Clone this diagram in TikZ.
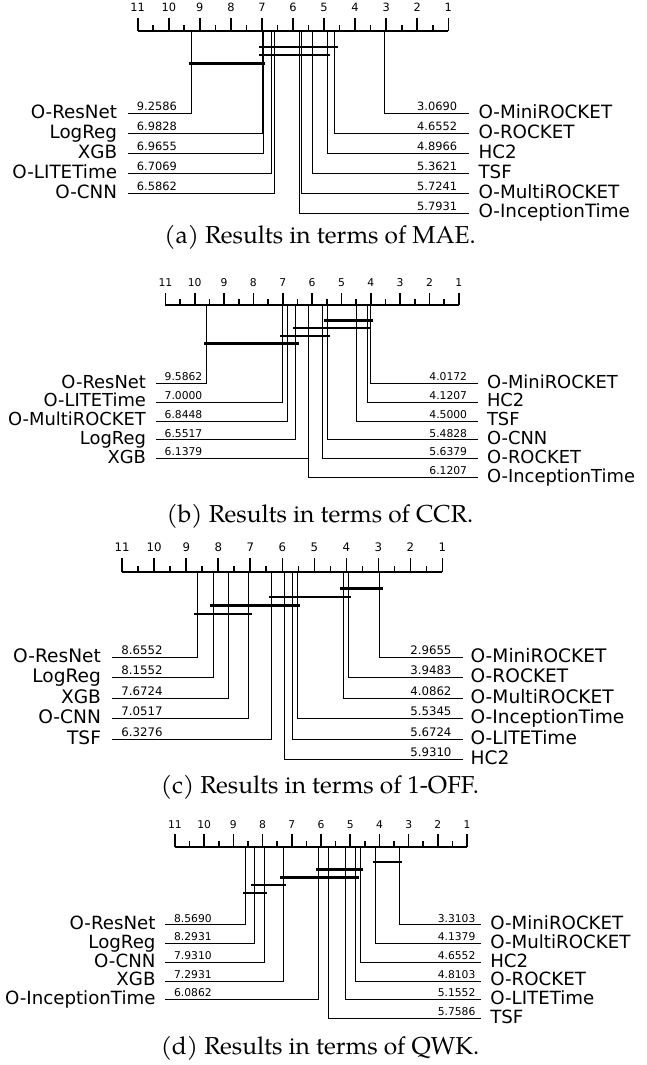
\documentclass[tikz,border=0pt]{standalone}
\usepackage{fontspec}
\newfontfamily\dvs{DejaVu Sans}
\newfontfamily\capfont{TeX Gyre Pagella}
% #1 xs, #2 xe, #3 scale, #4 axis y, #5 caption centre y, #6 name size, #7 right line gap, #8 right name gap
\newcommand\cdsetup[8]{%
  \def\cdxs{#1}\def\cdxe{#2}\def\cdf{#3}\def\cdya{#4}\def\cdcap{#5}%
  \def\cdrl{#7}\def\cdrn{#8}%
  \pgfmathsetmacro\cdu{(#2-#1)/10}%
  \pgfmathsetmacro\cdfN{#6}%
  \pgfmathsetmacro\cdfS{11.4*#3}%
  \pgfmathsetmacro\cdyr{#4+83*#3}%
  \pgfmathsetmacro\cddr{19.9*#3}%
  \pgfmathsetmacro\cdyt{#4-23.4*#3+0.365*\cdfS}%
}
\newcommand\cdaxis[1]{%
  \coordinate (#1ax0) at (\cdxs,\cdya);
  \coordinate (#1ax1) at (\cdxe,\cdya);
  \draw[axisln] (#1ax0) -- (#1ax1);
  \foreach \t in {1,...,11}{%
    \pgfmathsetmacro\cdX{\cdxs+(11-\t)*\cdu}%
    \draw[tickln] (\cdX,\cdya) -- (\cdX,\cdya-13*\cdf);
    \node[tk] (#1tk\t) at (\cdX,\cdyt) {\t};
  }%
  \foreach \t in {1.5,2.5,...,10.5}{%
    \pgfmathsetmacro\cdX{\cdxs+(11-\t)*\cdu}%
    \draw[tickln] (\cdX,\cdya) -- (\cdX,\cdya-6*\cdf);
  }%
}
\newcommand\cdL[4]{%
  \pgfmathsetmacro\cdX{\cdxs+(11-#3)*\cdu}%
  \pgfmathsetmacro\cdY{\cdyr+#2*\cddr}%
  \coordinate (#1L#2t) at (\cdX,\cdya);
  \coordinate (#1L#2e) at (\cdxs-10*\cdf,\cdY);
  \draw[conn] (#1L#2t) |- (#1L#2e);
  \node[nm,anchor=base east] (#1L#2) at (\cdxs-20.4*\cdf,\cdY+0.262*\cdfN) {#4};
  \node[num,anchor=base west] (#1L#2v) at (\cdxs-1*\cdf,\cdY-2.9*\cdf) {#3};
}
\newcommand\cdR[4]{%
  \pgfmathsetmacro\cdX{\cdxs+(11-#3)*\cdu}%
  \pgfmathsetmacro\cdY{\cdyr+#2*\cddr}%
  \coordinate (#1R#2t) at (\cdX,\cdya);
  \coordinate (#1R#2e) at (\cdxe+\cdrl,\cdY);
  \draw[conn] (#1R#2t) |- (#1R#2e);
  \node[nm,anchor=base west] (#1R#2) at (\cdxe+\cdrn,\cdY+0.262*\cdfN) {#4};
  \node[num,anchor=base east] (#1R#2v) at (\cdxe+9*\cdf,\cdY-2.9*\cdf) {#3};
}
\newcommand\cdB[3]{%
  \pgfmathsetmacro\cdXa{\cdxs+(11-#2)*\cdu-3*\cdf}%
  \pgfmathsetmacro\cdXb{\cdxs+(11-#3)*\cdu+3*\cdf}%
  \pgfmathsetmacro\cdY{\cdya+(16.3+8.2*#1)*\cdf}%
  \draw[cbar] (\cdXa,\cdY) -- (\cdXb,\cdY);
}
\newcommand\cdcaption[2]{%
  \node[captxt] (#1cap) at (320,\cdcap+7) {#2};
}
\begin{document}
\begin{tikzpicture}[x=1pt,y=-1pt,
  axisln/.style={line width=1.9pt},
  tickln/.style={line width=1.6pt},
  conn/.style={line width=0.9pt},
  cbar/.style={line width=2.6pt},
  nm/.style={inner sep=0pt,font=\dvs\fontsize{\cdfN}{\cdfN}\selectfont},
  num/.style={inner sep=0pt,font=\dvs\fontsize{\cdfS}{\cdfS}\selectfont},
  tk/.style={inner sep=0pt,anchor=base,font=\dvs\fontsize{\cdfS}{\cdfS}\selectfont},
  captxt/.style={inner sep=0pt,anchor=base,font=\capfont\fontsize{24.5}{24.5}\selectfont}]
\useasboundingbox (0,0) rectangle (647,1065);
% ---------- (a) MAE
\cdsetup{137.7}{448.3}{1.0}{30.7}{236}{18.3}{21}{30}
\cdaxis{a}
\cdB{0}{6.9828}{4.6552}
\cdB{1}{6.9828}{4.8966}
\cdB{2}{9.2586}{6.9828}
\cdL{a}{0}{9.2586}{O-ResNet}
\cdL{a}{1}{6.9828}{LogReg}
\cdL{a}{2}{6.9655}{XGB}
\cdL{a}{3}{6.7069}{O-LITETime}
\cdL{a}{4}{6.5862}{O-CNN}
\cdR{a}{0}{3.0690}{O-MiniROCKET}
\cdR{a}{1}{4.6552}{O-ROCKET}
\cdR{a}{2}{4.8966}{HC2}
\cdR{a}{3}{5.3621}{TSF}
\cdR{a}{4}{5.7241}{O-MultiROCKET}
\cdR{a}{5}{5.7931}{O-InceptionTime}
\cdcaption{a}{(a) Results in terms of MAE.}
% ---------- (b) CCR
\cdsetup{165.4}{458.8}{0.9446}{305}{515}{17.9}{19}{28}
\cdaxis{b}
\cdB{0}{5.4828}{4.0172}
\cdB{1}{6.5517}{4.1207}
\cdB{2}{7.0000}{5.4828}
\cdB{3}{9.5862}{6.5517}
\cdL{b}{0}{9.5862}{O-ResNet}
\cdL{b}{1}{7.0000}{O-LITETime}
\cdL{b}{2}{6.8448}{O-MultiROCKET}
\cdL{b}{3}{6.5517}{LogReg}
\cdL{b}{4}{6.1379}{XGB}
\cdR{b}{0}{4.0172}{O-MiniROCKET}
\cdR{b}{1}{4.1207}{HC2}
\cdR{b}{2}{4.5000}{TSF}
\cdR{b}{3}{5.4828}{O-CNN}
\cdR{b}{4}{5.6379}{O-ROCKET}
\cdR{b}{5}{6.1207}{O-InceptionTime}
\cdcaption{b}{(b) Results in terms of CCR.}
% ---------- (c) 1-OFF
\cdsetup{122.2}{442.4}{1.031}{571.7}{786}{18.6}{20.5}{28}
\cdaxis{c}
\cdB{0}{4.0862}{2.9655}
\cdB{1}{6.3276}{3.9483}
\cdB{2}{8.1552}{5.5345}
\cdB{3}{8.6552}{7.0517}
\cdL{c}{0}{8.6552}{O-ResNet}
\cdL{c}{1}{8.1552}{LogReg}
\cdL{c}{2}{7.6724}{XGB}
\cdL{c}{3}{7.0517}{O-CNN}
\cdL{c}{4}{6.3276}{TSF}
\cdR{c}{0}{2.9655}{O-MiniROCKET}
\cdR{c}{1}{3.9483}{O-ROCKET}
\cdR{c}{2}{4.0862}{O-MultiROCKET}
\cdR{c}{3}{5.5345}{O-InceptionTime}
\cdR{c}{4}{5.6724}{O-LITETime}
\cdR{c}{5}{5.9310}{HC2}
\cdcaption{c}{(c) Results in terms of 1-OFF.}
% ---------- (d) QWK
\cdsetup{174.9}{467.1}{0.9408}{846.7}{1047}{18.2}{14}{23}
\cdaxis{d}
\cdB{0}{4.1379}{3.3103}
\cdB{1}{6.0862}{4.6552}
\cdB{2}{7.2931}{4.8103}
\cdB{3}{8.2931}{7.2931}
\cdB{4}{8.5690}{7.9310}
\cdL{d}{0}{8.5690}{O-ResNet}
\cdL{d}{1}{8.2931}{LogReg}
\cdL{d}{2}{7.9310}{O-CNN}
\cdL{d}{3}{7.2931}{XGB}
\cdL{d}{4}{6.0862}{O-InceptionTime}
\cdR{d}{0}{3.3103}{O-MiniROCKET}
\cdR{d}{1}{4.1379}{O-MultiROCKET}
\cdR{d}{2}{4.6552}{HC2}
\cdR{d}{3}{4.8103}{O-ROCKET}
\cdR{d}{4}{5.1552}{O-LITETime}
\cdR{d}{5}{5.7586}{TSF}
\cdcaption{d}{(d) Results in terms of QWK.}
\end{tikzpicture}
\end{document}
